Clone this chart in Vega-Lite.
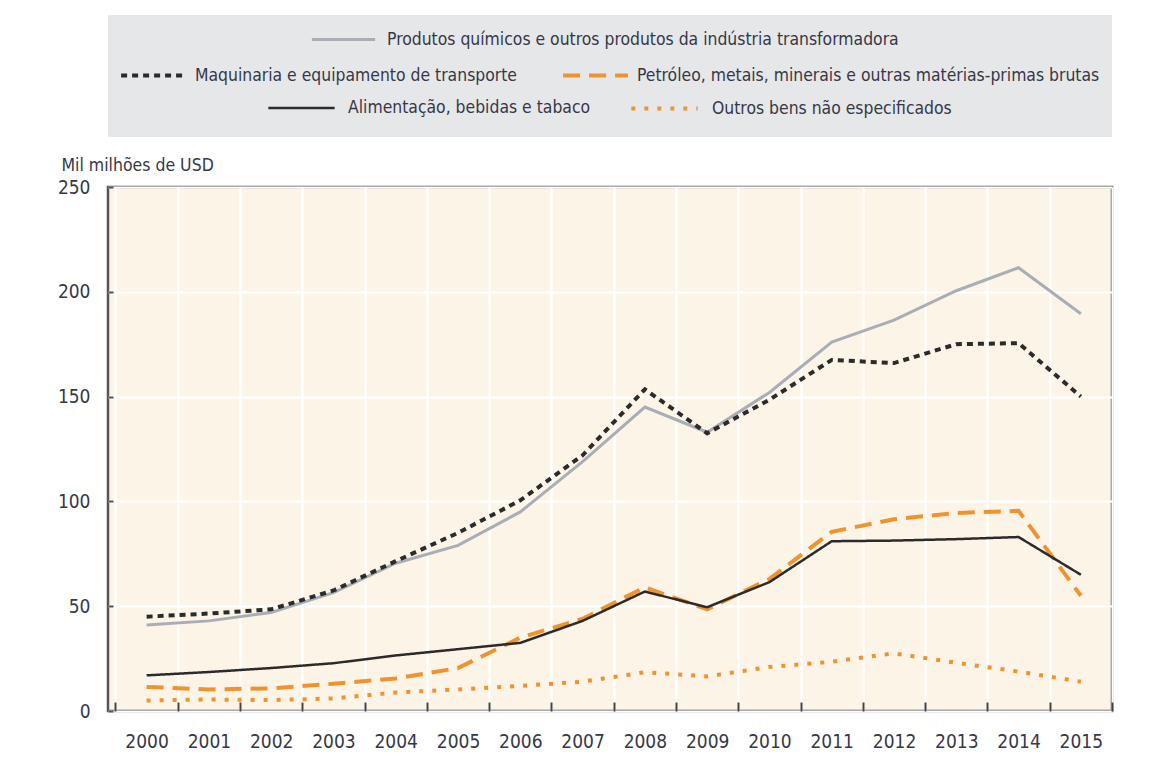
{
  "$schema": "https://vega.github.io/schema/vega-lite/v6.json",
  "background": "white",
  "padding": {"left": 56, "top": 4, "right": 5, "bottom": 5},
  "bounds": "flush",
  "spacing": 50,
  "datasets": {
    "trade": [
      {"year": "2000", "series": "Produtos químicos e outros produtos da indústria transformadora", "value": 41},
      {"year": "2001", "series": "Produtos químicos e outros produtos da indústria transformadora", "value": 43},
      {"year": "2002", "series": "Produtos químicos e outros produtos da indústria transformadora", "value": 47},
      {"year": "2003", "series": "Produtos químicos e outros produtos da indústria transformadora", "value": 56.5},
      {"year": "2004", "series": "Produtos químicos e outros produtos da indústria transformadora", "value": 70.5},
      {"year": "2005", "series": "Produtos químicos e outros produtos da indústria transformadora", "value": 79},
      {"year": "2006", "series": "Produtos químicos e outros produtos da indústria transformadora", "value": 95},
      {"year": "2007", "series": "Produtos químicos e outros produtos da indústria transformadora", "value": 119},
      {"year": "2008", "series": "Produtos químicos e outros produtos da indústria transformadora", "value": 145},
      {"year": "2009", "series": "Produtos químicos e outros produtos da indústria transformadora", "value": 133},
      {"year": "2010", "series": "Produtos químicos e outros produtos da indústria transformadora", "value": 152},
      {"year": "2011", "series": "Produtos químicos e outros produtos da indústria transformadora", "value": 176},
      {"year": "2012", "series": "Produtos químicos e outros produtos da indústria transformadora", "value": 186.5},
      {"year": "2013", "series": "Produtos químicos e outros produtos da indústria transformadora", "value": 200.5},
      {"year": "2014", "series": "Produtos químicos e outros produtos da indústria transformadora", "value": 211.5},
      {"year": "2015", "series": "Produtos químicos e outros produtos da indústria transformadora", "value": 189.5},
      {"year": "2000", "series": "Maquinaria e equipamento de transporte", "value": 45},
      {"year": "2001", "series": "Maquinaria e equipamento de transporte", "value": 46.5},
      {"year": "2002", "series": "Maquinaria e equipamento de transporte", "value": 48.5},
      {"year": "2003", "series": "Maquinaria e equipamento de transporte", "value": 57.5},
      {"year": "2004", "series": "Maquinaria e equipamento de transporte", "value": 71.5},
      {"year": "2005", "series": "Maquinaria e equipamento de transporte", "value": 85},
      {"year": "2006", "series": "Maquinaria e equipamento de transporte", "value": 100.5},
      {"year": "2007", "series": "Maquinaria e equipamento de transporte", "value": 122},
      {"year": "2008", "series": "Maquinaria e equipamento de transporte", "value": 153.5},
      {"year": "2009", "series": "Maquinaria e equipamento de transporte", "value": 132.5},
      {"year": "2010", "series": "Maquinaria e equipamento de transporte", "value": 148.5},
      {"year": "2011", "series": "Maquinaria e equipamento de transporte", "value": 167.5},
      {"year": "2012", "series": "Maquinaria e equipamento de transporte", "value": 166},
      {"year": "2013", "series": "Maquinaria e equipamento de transporte", "value": 175},
      {"year": "2014", "series": "Maquinaria e equipamento de transporte", "value": 175.5},
      {"year": "2015", "series": "Maquinaria e equipamento de transporte", "value": 150},
      {"year": "2000", "series": "Petróleo, metais, minerais e outras matérias-primas brutas", "value": 11.5},
      {"year": "2001", "series": "Petróleo, metais, minerais e outras matérias-primas brutas", "value": 10.3},
      {"year": "2002", "series": "Petróleo, metais, minerais e outras matérias-primas brutas", "value": 10.8},
      {"year": "2003", "series": "Petróleo, metais, minerais e outras matérias-primas brutas", "value": 13},
      {"year": "2004", "series": "Petróleo, metais, minerais e outras matérias-primas brutas", "value": 15.5},
      {"year": "2005", "series": "Petróleo, metais, minerais e outras matérias-primas brutas", "value": 20.5},
      {"year": "2006", "series": "Petróleo, metais, minerais e outras matérias-primas brutas", "value": 35},
      {"year": "2007", "series": "Petróleo, metais, minerais e outras matérias-primas brutas", "value": 44},
      {"year": "2008", "series": "Petróleo, metais, minerais e outras matérias-primas brutas", "value": 59},
      {"year": "2009", "series": "Petróleo, metais, minerais e outras matérias-primas brutas", "value": 48.5},
      {"year": "2010", "series": "Petróleo, metais, minerais e outras matérias-primas brutas", "value": 63},
      {"year": "2011", "series": "Petróleo, metais, minerais e outras matérias-primas brutas", "value": 85.5},
      {"year": "2012", "series": "Petróleo, metais, minerais e outras matérias-primas brutas", "value": 91.5},
      {"year": "2013", "series": "Petróleo, metais, minerais e outras matérias-primas brutas", "value": 94.5},
      {"year": "2014", "series": "Petróleo, metais, minerais e outras matérias-primas brutas", "value": 95.5},
      {"year": "2015", "series": "Petróleo, metais, minerais e outras matérias-primas brutas", "value": 55},
      {"year": "2000", "series": "Alimentação, bebidas e tabaco", "value": 17},
      {"year": "2001", "series": "Alimentação, bebidas e tabaco", "value": 18.6},
      {"year": "2002", "series": "Alimentação, bebidas e tabaco", "value": 20.5},
      {"year": "2003", "series": "Alimentação, bebidas e tabaco", "value": 22.8},
      {"year": "2004", "series": "Alimentação, bebidas e tabaco", "value": 26.5},
      {"year": "2005", "series": "Alimentação, bebidas e tabaco", "value": 29.5},
      {"year": "2006", "series": "Alimentação, bebidas e tabaco", "value": 32.5},
      {"year": "2007", "series": "Alimentação, bebidas e tabaco", "value": 43},
      {"year": "2008", "series": "Alimentação, bebidas e tabaco", "value": 57},
      {"year": "2009", "series": "Alimentação, bebidas e tabaco", "value": 49.5},
      {"year": "2010", "series": "Alimentação, bebidas e tabaco", "value": 61.5},
      {"year": "2011", "series": "Alimentação, bebidas e tabaco", "value": 81},
      {"year": "2012", "series": "Alimentação, bebidas e tabaco", "value": 81.3},
      {"year": "2013", "series": "Alimentação, bebidas e tabaco", "value": 82},
      {"year": "2014", "series": "Alimentação, bebidas e tabaco", "value": 83},
      {"year": "2015", "series": "Alimentação, bebidas e tabaco", "value": 65},
      {"year": "2000", "series": "Outros bens não especificados", "value": 5},
      {"year": "2001", "series": "Outros bens não especificados", "value": 5.5},
      {"year": "2002", "series": "Outros bens não especificados", "value": 5.2},
      {"year": "2003", "series": "Outros bens não especificados", "value": 6},
      {"year": "2004", "series": "Outros bens não especificados", "value": 8.8},
      {"year": "2005", "series": "Outros bens não especificados", "value": 10.3},
      {"year": "2006", "series": "Outros bens não especificados", "value": 12},
      {"year": "2007", "series": "Outros bens não especificados", "value": 14},
      {"year": "2008", "series": "Outros bens não especificados", "value": 18.5},
      {"year": "2009", "series": "Outros bens não especificados", "value": 16.5},
      {"year": "2010", "series": "Outros bens não especificados", "value": 21},
      {"year": "2011", "series": "Outros bens não especificados", "value": 23.5},
      {"year": "2012", "series": "Outros bens não especificados", "value": 27.5},
      {"year": "2013", "series": "Outros bens não especificados", "value": 23},
      {"year": "2014", "series": "Outros bens não especificados", "value": 18.8},
      {"year": "2015", "series": "Outros bens não especificados", "value": 14}
    ]
  },
  "vconcat": [
    {
      "width": 1004,
      "height": 122,
      "view": {"fill": "#e6e7e8", "stroke": null},
      "data": {"values": []},
      "mark": "point",
      "encoding": {}
    },
    {
      "width": 1004,
      "height": 524,
      "view": {"fill": "#fdf4e8", "stroke": "#555555", "strokeWidth": 2.5},
      "data": {"name": "trade"},
      "encoding": {
        "x": {
          "field": "year",
          "type": "ordinal",
          "scale": {"type": "band", "paddingInner": 0, "paddingOuter": 0.06, "align": 1},
          "axis": {
            "title": null,
            "labelAngle": 0,
            "tickBand": "extent",
            "tickSize": -9,
            "tickWidth": 2,
            "tickColor": "#444444",
            "labelPadding": 30,
            "domain": false,
            "grid": true,
            "gridColor": "#ffffff",
            "gridWidth": 2,
            "labelFontSize": 19,
            "labelColor": "#363847"
          }
        },
        "y": {
          "field": "value",
          "type": "quantitative",
          "scale": {"domain": [0, 250], "nice": false},
          "axis": {
            "values": [0, 50, 100, 150, 200, 250],
            "title": "Mil milhões de USD",
            "titleAngle": 0,
            "titleAlign": "left",
            "titleBaseline": "alphabetic",
            "titleX": -47,
            "titleY": -17,
            "titleFontSize": 17.5,
            "titleFontWeight": "normal",
            "titleColor": "#363847",
            "labelFontSize": 19,
            "labelColor": "#363847",
            "labelPadding": 23,
            "tickSize": -5,
            "tickWidth": 2,
            "tickColor": "#555555",
            "domain": false,
            "grid": true,
            "gridColor": "#ffffff",
            "gridWidth": 2
          }
        }
      },
      "layer": [
        {
          "transform": [{"filter": {"field": "series", "oneOf": ["Produtos químicos e outros produtos da indústria transformadora"]}}],
          "mark": {"type": "line", "strokeWidth": 3, "strokeCap": "butt"},
          "encoding": {
            "color": {
              "field": "series",
              "type": "nominal",
              "scale": {"domain": ["Produtos químicos e outros produtos da indústria transformadora"], "range": ["#a9aeb6"]},
              "legend": {"title": null, "orient": "none", "legendX": 202, "legendY": -181, "direction": "horizontal", "symbolType": "stroke", "symbolSize": 4000, "symbolStrokeWidth": 3, "labelOffset": 10}
            }
          }
        },
        {
          "transform": [{"filter": {"field": "series", "oneOf": ["Maquinaria e equipamento de transporte", "Petróleo, metais, minerais e outras matérias-primas brutas"]}}],
          "mark": {"type": "line", "strokeWidth": 4, "strokeCap": "butt"},
          "encoding": {
            "color": {
              "field": "series",
              "type": "nominal",
              "scale": {"domain": ["Maquinaria e equipamento de transporte", "Petróleo, metais, minerais e outras matérias-primas brutas"], "range": ["#2b2b2b", "#f0922e"]},
              "legend": {"title": null, "orient": "none", "legendX": 11, "legendY": -146, "direction": "horizontal", "symbolType": "stroke", "symbolSize": 4200, "symbolStrokeWidth": 4, "labelOffset": 7, "columnPadding": 38}
            },
            "strokeDash": {
              "field": "series",
              "type": "nominal",
              "scale": {"domain": ["Maquinaria e equipamento de transporte", "Petróleo, metais, minerais e outras matérias-primas brutas"], "range": [[6, 5], [17, 9]]},
              "legend": {"title": null, "orient": "none", "legendX": 11, "legendY": -146, "direction": "horizontal", "symbolType": "stroke", "symbolSize": 4200, "symbolStrokeWidth": 4, "labelOffset": 7, "columnPadding": 38}
            }
          }
        },
        {
          "transform": [{"filter": {"field": "series", "oneOf": ["Alimentação, bebidas e tabaco", "Outros bens não especificados"]}}],
          "mark": {"type": "line", "strokeCap": "butt"},
          "encoding": {
            "color": {
              "field": "series",
              "type": "nominal",
              "scale": {"domain": ["Alimentação, bebidas e tabaco", "Outros bens não especificados"], "range": ["#2b2b2b", "#f0922e"]},
              "legend": {"title": null, "orient": "none", "legendX": 159, "legendY": -114, "direction": "horizontal", "symbolType": "stroke", "symbolSize": 4400, "labelOffset": 12, "columnPadding": 32}
            },
            "strokeDash": {
              "field": "series",
              "type": "nominal",
              "scale": {"domain": ["Alimentação, bebidas e tabaco", "Outros bens não especificados"], "range": [[1, 0], [4, 9]]},
              "legend": {"title": null, "orient": "none", "legendX": 159, "legendY": -114, "direction": "horizontal", "symbolType": "stroke", "symbolSize": 4400, "labelOffset": 12, "columnPadding": 32}
            },
            "strokeWidth": {
              "field": "series",
              "type": "nominal",
              "scale": {"domain": ["Alimentação, bebidas e tabaco", "Outros bens não especificados"], "range": [2.5, 4]},
              "legend": {"title": null, "orient": "none", "legendX": 159, "legendY": -114, "direction": "horizontal", "symbolType": "stroke", "symbolSize": 4400, "labelOffset": 12, "columnPadding": 32}
            }
          }
        }
      ],
      "resolve": {
        "scale": {"color": "independent", "strokeDash": "independent", "strokeWidth": "independent"},
        "legend": {"color": "independent", "strokeDash": "independent", "strokeWidth": "independent"}
      }
    }
  ],
  "config": {
    "font": "Liberation Sans Narrow, DejaVu Sans Condensed, Roboto, sans-serif",
    "legend": {
      "labelFont": "Liberation Sans Narrow, DejaVu Sans Condensed, Roboto, sans-serif",
      "labelFontSize": 17.4,
      "labelColor": "#363847",
      "labelLimit": 0
    },
    "axis": {
      "labelFont": "Liberation Sans Narrow, DejaVu Sans Condensed, Roboto, sans-serif",
      "titleFont": "Liberation Sans Narrow, DejaVu Sans Condensed, Roboto, sans-serif"
    }
  }
}
